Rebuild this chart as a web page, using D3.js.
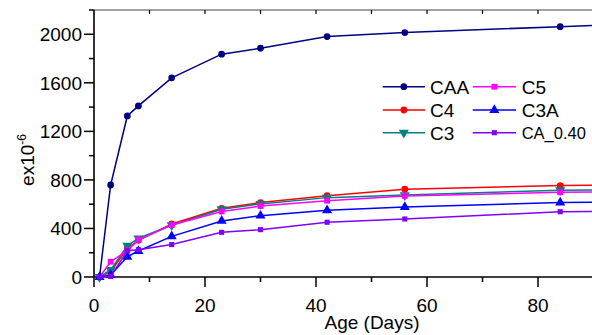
<!DOCTYPE html>
<html>
<head>
<meta charset="utf-8">
<script src="https://cdn.jsdelivr.net/npm/d3@7"></script>
<style>
  body { margin: 0; background: #fff; }
  svg { display: block; overflow: hidden; }
  text { font-family: Arial, "Liberation Sans", sans-serif; fill: #000; }
</style>
</head>
<body>
<svg id="chart" width="592" height="335"></svg>
<script>
// ---- Data ----
const days = [1, 3, 6, 8, 14, 23, 30, 42, 56, 84, 91];
const seriesNames = ["CAA", "C4", "C3", "C5", "C3A", "CA_0.40"];
const valsCAA  = [0, 758, 1327, 1410, 1641, 1836, 1885, 1981, 2014, 2063, 2074];
const valsC4   = [0, 44, 236, 302, 437, 566, 613, 670, 723, 753, 756];
const valsC3   = [0, 58, 258, 319, 427, 558, 602, 654, 675, 715, 718];
const valsC5   = [0, 126, 218, 308, 428, 540, 585, 629, 668, 698, 700];
const valsC3A  = [0, 16, 167, 214, 335, 462, 505, 550, 577, 613, 616];
const valsCA40 = [0, 4, 217, 225, 267, 368, 390, 451, 478, 538, 541];
const xTickLabels = [0, 20, 40, 60, 80];
const yTickLabels = [0, 400, 800, 1200, 1600, 2000];
const xLabel = "Age (Days)";
const yLabelMain = "ex10";
const yLabelSup = "-6";

const seriesValues = [valsCAA, valsC4, valsC3, valsC5, valsC3A, valsCA40];
const colors = ["#000080", "#ff0000", "#008080", "#ff00ff", "#0000ff", "#8000ff"];
const shapes = [d3.symbolCircle, d3.symbolCircle, "down", d3.symbolSquare, d3.symbolTriangle, d3.symbolSquare];
const sizes = [36, 36, 44, 34, 44, 26];

// ---- Layout ----
const svg = d3.select("#chart");
const pL = 94, pR = 649, pT = 10, pB = 277;
const x = d3.scaleLinear().domain([0, 100]).range([pL, pR]);
const y = d3.scaleLinear().domain([0, 2200]).range([pB, pT]);
const FS = 19;

function symbolPath(shape, size) {
  if (shape === "down") {
    return d3.symbol().type(d3.symbolTriangle).size(size)();
  }
  return d3.symbol().type(shape).size(size)();
}
function symbolTransform(shape, px, py) {
  return shape === "down" ? `translate(${px},${py}) rotate(180)` : `translate(${px},${py})`;
}

// ---- Axes ----
const ax = svg.append("g").attr("stroke", "#000");
ax.append("line").attr("x1", pL).attr("x2", pR).attr("y1", pT).attr("y2", pT)
  .attr("stroke-width", 1.2).attr("stroke", "#444");
ax.append("line").attr("x1", pL).attr("x2", pL).attr("y1", pT).attr("y2", pB)
  .attr("stroke-width", 1.6);
ax.append("line").attr("x1", pL).attr("x2", pR).attr("y1", pB).attr("y2", pB)
  .attr("stroke-width", 1.6);

const xTicksAll = d3.range(0, 101, 10);
xTicksAll.forEach(t => {
  const major = t % 20 === 0;
  ax.append("line").attr("x1", x(t)).attr("x2", x(t)).attr("y1", pB).attr("y2", pB + (major ? 10 : 5))
    .attr("stroke-width", 1.5);
  if (t > 0) {
    ax.append("line").attr("x1", x(t)).attr("x2", x(t)).attr("y1", pT).attr("y2", pT + 4)
      .attr("stroke-width", 1.2);
  }
});
svg.append("g").selectAll("text").data(xTickLabels).join("text")
  .attr("x", d => x(d)).attr("y", 311.5)
  .attr("text-anchor", "middle").attr("font-size", FS).text(d => d);

const yTicksAll = d3.range(0, 2201, 200);
yTicksAll.forEach(t => {
  const major = t % 400 === 0;
  ax.append("line").attr("x1", pL - (major ? 10 : 5)).attr("x2", pL).attr("y1", y(t)).attr("y2", y(t))
    .attr("stroke-width", 1.5);
});
svg.append("g").selectAll("text").data(yTickLabels).join("text")
  .attr("x", 82).attr("y", d => y(d)).attr("dy", "0.36em")
  .attr("text-anchor", "end").attr("font-size", FS).text(d => d);

svg.append("text").attr("x", 372).attr("y", 329).attr("text-anchor", "middle")
  .attr("font-size", FS).text(xLabel);
const yl = svg.append("text").attr("transform", "translate(34,160) rotate(-90)")
  .attr("text-anchor", "middle").attr("font-size", FS);
yl.append("tspan").text(yLabelMain);
yl.append("tspan").attr("font-size", 12).attr("dy", -8).text(yLabelSup);

// ---- Series ----
const line = d3.line().x((d, i) => x(days[i])).y(d => y(d));
seriesValues.forEach((vals, si) => {
  const g = svg.append("g");
  g.append("path").datum(vals).attr("d", line).attr("fill", "none")
    .attr("stroke", colors[si]).attr("stroke-width", 1.5);
  g.selectAll("path.m").data(vals).join("path").attr("class", "m")
    .attr("d", symbolPath(shapes[si], sizes[si]))
    .attr("transform", (d, i) => symbolTransform(shapes[si], x(days[i]), y(d)))
    .attr("fill", colors[si]);
});

// ---- Legend ----
const legCols = [[382.7, 425, 430], [472.7, 516, 521.7]];
const legRows = [86.7, 110, 132.7];
seriesNames.forEach((name, si) => {
  const col = si < 3 ? 0 : 1;
  const order = si % 3;
  const [x1, x2, tx] = legCols[col];
  const ly = legRows[order];
  const g = svg.append("g");
  g.append("line").attr("x1", x1).attr("x2", x2).attr("y1", ly).attr("y2", ly)
    .attr("stroke", colors[si]).attr("stroke-width", 1.5);
  g.append("path").attr("d", symbolPath(shapes[si], sizes[si]))
    .attr("transform", symbolTransform(shapes[si], (x1 + x2) / 2, ly)).attr("fill", colors[si]);
  const t = g.append("text").attr("x", tx).attr("y", ly).attr("dy", "0.36em")
    .attr("font-size", FS).text(name);
  const w = t.node().getComputedTextLength();
  if (tx + w > 586) {
    t.attr("font-size", FS * (586 - tx) / w);
  }
});
</script>
</body>
</html>
